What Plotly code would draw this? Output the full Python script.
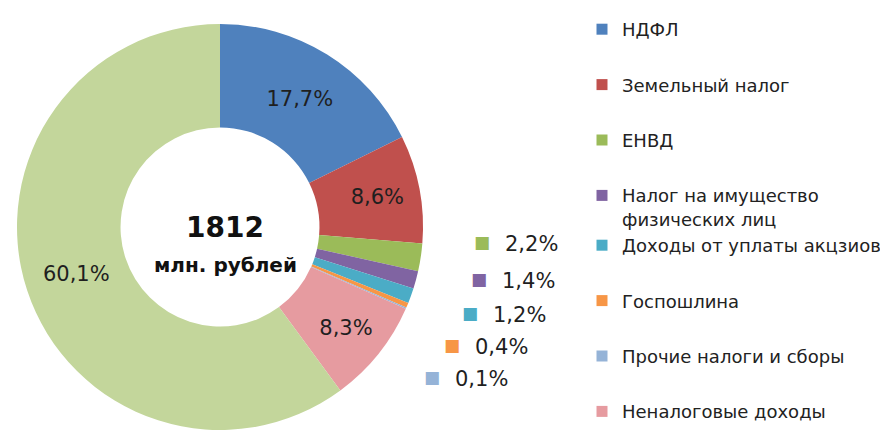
import plotly.graph_objects as go

# ---- data ----
categories = ["НДФЛ", "Земельный налог", "ЕНВД", "Налог на имущество<br>физических лиц",
              "Доходы от уплаты акцзиов", "Госпошлина", "Прочие налоги и сборы",
              "Неналоговые доходы", "Прочие поступления"]
shares = [17.7, 8.6, 2.2, 1.4, 1.2, 0.4, 0.1, 8.3, 60.1]
colors = ["#4F81BD", "#C0504D", "#9BBB59", "#8064A2", "#4BACC6", "#F79646",
          "#95B3D7", "#E69BA0", "#C3D69B"]
in_legend = [True, True, True, True, True, True, True, True, False]
legend_groups = ["g1", "g2", "g3", "g4", "g4", "g6", "g7", "g8", "g9"]
inside_label = [True, True, False, False, False, False, False, True, True]
total_value = "1812"
total_unit = "млн. рублей"

W, H, OFF = 880, 422, 8  # figure size; page body margin offset


def X(px):
    return (px - OFF) / W


def Y(py):
    return 1 - (py - OFF) / H


def fmt(v):
    return f"{v:.1f}".replace(".", ",") + "%"


texts = [fmt(v) if show else "" for v, show in zip(shares, inside_label)]

fig = go.Figure()
fig.add_trace(go.Pie(
    labels=categories, values=shares, text=texts, textinfo="text",
    textposition="inside", insidetextorientation="horizontal",
    sort=False, direction="clockwise", rotation=0, hole=0.49,
    marker=dict(colors=colors, line=dict(width=0)),
    textfont=dict(family="DejaVu Sans", size=21, color="#1f1f1f"),
    domain=dict(x=[X(17), X(423)], y=[0, Y(24)]),
    showlegend=False, hoverinfo="label+percent",
))

# legend entries (the last slice is not listed in the original legend)
for name, col, show, grp in zip(categories, colors, in_legend, legend_groups):
    if not show:
        continue
    fig.add_trace(go.Scatter(
        x=[None], y=[None], mode="markers", name=name, legendgroup=grp,
        marker=dict(symbol="square", size=11, color=col),
        hoverinfo="skip",
    ))

# outside labels for the small slices, with colour keys
small_idx = [i for i, s in enumerate(inside_label) if not s]
key_x = [482, 479, 470, 452, 432]
key_y = [242, 279, 313, 345, 377]
for k, i in enumerate(small_idx):
    fig.add_annotation(x=X(key_x[k]), y=Y(key_y[k]), xref="paper", yref="paper",
                       text="■", showarrow=False, xanchor="center", yanchor="middle",
                       font=dict(family="DejaVu Sans", size=17, color=colors[i]))
    fig.add_annotation(x=X(key_x[k] + 21), y=Y(key_y[k] + 2), xref="paper", yref="paper",
                       text=fmt(shares[i]), showarrow=False, xanchor="left", yanchor="middle",
                       font=dict(family="DejaVu Sans", size=21, color="#1f1f1f"))

# centre text
fig.add_annotation(x=X(225), y=Y(227), xref="paper", yref="paper",
                   text=f"<b>{total_value}</b>", showarrow=False,
                   xanchor="center", yanchor="middle",
                   font=dict(family="DejaVu Sans", size=28, color="#111111"))
fig.add_annotation(x=X(225), y=Y(265), xref="paper", yref="paper",
                   text=f"<b>{total_unit}</b>", showarrow=False,
                   xanchor="center", yanchor="middle",
                   font=dict(family="DejaVu Sans", size=20, color="#111111"))

fig.update_layout(
    width=W, height=H,
    margin=dict(l=0, r=0, t=0, b=0),
    paper_bgcolor="white", plot_bgcolor="white",
    xaxis=dict(visible=False), yaxis=dict(visible=False),
    legend=dict(x=X(582), xanchor="left", y=Y(12), yanchor="top",
                font=dict(family="DejaVu Sans", size=18, color="#222222"),
                valign="top", tracegroupgap=29, bgcolor="rgba(0,0,0,0)"),
)

fig.write_html("out.html")
